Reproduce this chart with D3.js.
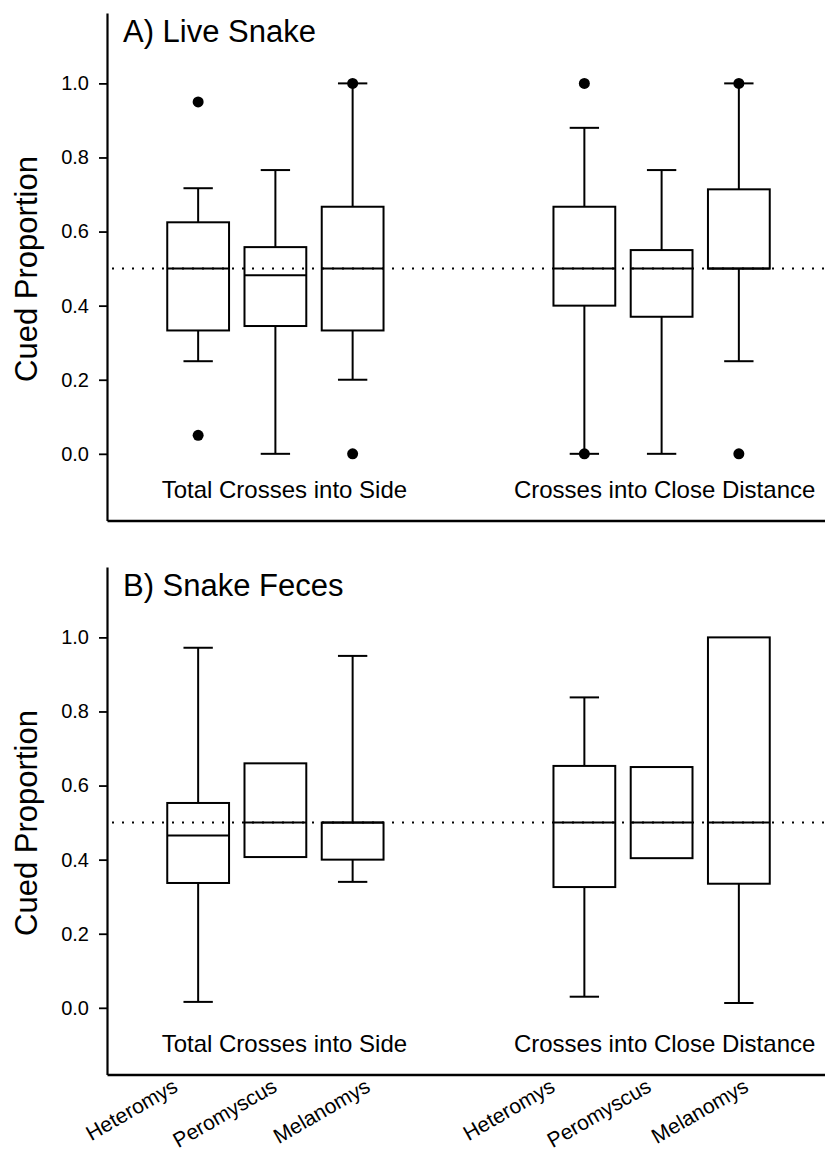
<!DOCTYPE html>
<html>
<head>
<meta charset="utf-8">
<script src="https://cdn.jsdelivr.net/npm/d3@7"></script>
<style>
  body { margin: 0; background: #fff; }
  text { font-family: "Liberation Sans", Arial, sans-serif; fill: #000; }
</style>
</head>
<body>
<div id="chart"></div>
<script>
// categories
var species = ["Heteromys", "Peromyscus", "Melanomys"];
var measures = ["Total Crosses into Side", "Crosses into Close Distance"];
var panelTitles = ["A) Live Snake", "B) Snake Feces"];
var yTicks = [0, 0.2, 0.4, 0.6, 0.8, 1.0];

// box order: Total (Het, Per, Mel), Close (Het, Per, Mel)
var liveLow  = [0.25, 0.0, 0.2, 0.0, 0.0, 0.25];
var liveQ1   = [0.333, 0.345, 0.333, 0.40, 0.37, 0.50];
var liveMed  = [0.50, 0.482, 0.50, 0.50, 0.50, 0.50];
var liveQ3   = [0.625, 0.558, 0.667, 0.667, 0.55, 0.714];
var liveHigh = [0.717, 0.766, 1.0, 0.88, 0.766, 1.0];
var liveOut  = [[0.05, 0.95], [], [0.0, 1.0], [0.0, 1.0], [], [0.0, 1.0]];

var fecesLow  = [0.016, null, 0.34, 0.03, null, 0.013];
var fecesQ1   = [0.337, 0.407, 0.40, 0.326, 0.404, 0.335];
var fecesMed  = [0.465, 0.50, 0.50, 0.50, 0.50, 0.50];
var fecesQ3   = [0.553, 0.66, 0.50, 0.653, 0.65, 1.0];
var fecesHigh = [0.972, null, 0.95, 0.838, null, null];
var fecesOut  = [[], [], [], [], [], []];

var refLine = 0.5;

//Define SVG size
var svgWidth = 825;
var svgHeight = 1158;

var svg = d3.select("#chart")
  .append("svg")
  .attr("width", svgWidth)
  .attr("height", svgHeight);

// slot positions of boxes (gap of two slots between the groups)
var slots = [0, 1, 2, 5, 6, 7];
var xScale = d3.scaleLinear()
  .domain([-1.18, 8.18])
  .range([107, 830]);
var boxHalf = 0.4;
var capHalf = 0.19;

// manual nudges of the rotated species labels
var labelShift = [-19, 3, 19, -28, -9, 11];

function makeRows(low, q1, med, q3, high, out) {
  return slots.map(function(s, i) {
    return { slot: s, low: low[i], q1: q1[i], med: med[i], q3: q3[i], high: high[i], out: out[i] };
  });
}

var panels = [
  { title: panelTitles[0], rows: makeRows(liveLow, liveQ1, liveMed, liveQ3, liveHigh, liveOut), top: 13 },
  { title: panelTitles[1], rows: makeRows(fecesLow, fecesQ1, fecesMed, fecesQ3, fecesHigh, fecesOut), top: 567 }
];

panels.forEach(function(p, pi) {
  var bottom = p.top + 507.5;
  var yScale = d3.scaleLinear()
    .domain([-0.18, 1.19])
    .range([bottom, p.top]);

  var g = svg.append("g");

  // y axis
  var leftAxis = d3.axisLeft(yScale)
    .tickValues(yTicks)
    .tickFormat(d3.format(".1f"))
    .tickSize(8)
    .tickSizeOuter(0)
    .tickPadding(10);

  var yAx = g.append("g")
    .attr("transform", "translate(" + xScale.range()[0] + ",0)")
    .call(leftAxis);
  yAx.select(".domain").attr("stroke-width", 2.2);
  yAx.selectAll(".tick line").attr("stroke-width", 1.8);
  yAx.selectAll(".tick text")
    .style("font-size", "20px")
    .style("font-family", "'Liberation Sans', Arial, sans-serif");

  // x axis line
  var bottomAxis = d3.axisBottom(xScale).tickValues([]).tickSizeOuter(0);
  var xAx = g.append("g")
    .attr("transform", "translate(0," + bottom + ")")
    .call(bottomAxis);
  xAx.select(".domain").attr("stroke-width", 2.6);

  // reference line
  g.append("line")
    .attr("x1", 112)
    .attr("x2", svgWidth)
    .attr("y1", yScale(refLine))
    .attr("y2", yScale(refLine))
    .attr("stroke", "#000")
    .attr("stroke-width", 2)
    .attr("stroke-dasharray", "2,8");

  // boxes
  var boxes = g.selectAll(".box")
    .data(p.rows)
    .enter()
    .append("g")
    .attr("class", "box");

  boxes.filter(d => d.high != null)
    .append("line")
    .attr("x1", d => xScale(d.slot))
    .attr("x2", d => xScale(d.slot))
    .attr("y1", d => yScale(d.q3))
    .attr("y2", d => yScale(d.high))
    .attr("stroke", "#000")
    .attr("stroke-width", 2);

  boxes.filter(d => d.high != null)
    .append("line")
    .attr("x1", d => xScale(d.slot - capHalf))
    .attr("x2", d => xScale(d.slot + capHalf))
    .attr("y1", d => yScale(d.high))
    .attr("y2", d => yScale(d.high))
    .attr("stroke", "#000")
    .attr("stroke-width", 2);

  boxes.filter(d => d.low != null)
    .append("line")
    .attr("x1", d => xScale(d.slot))
    .attr("x2", d => xScale(d.slot))
    .attr("y1", d => yScale(d.q1))
    .attr("y2", d => yScale(d.low))
    .attr("stroke", "#000")
    .attr("stroke-width", 2);

  boxes.filter(d => d.low != null)
    .append("line")
    .attr("x1", d => xScale(d.slot - capHalf))
    .attr("x2", d => xScale(d.slot + capHalf))
    .attr("y1", d => yScale(d.low))
    .attr("y2", d => yScale(d.low))
    .attr("stroke", "#000")
    .attr("stroke-width", 2);

  boxes.append("rect")
    .attr("x", d => xScale(d.slot - boxHalf))
    .attr("width", d => xScale(d.slot + boxHalf) - xScale(d.slot - boxHalf))
    .attr("y", d => yScale(d.q3))
    .attr("height", d => yScale(d.q1) - yScale(d.q3))
    .attr("fill", "none")
    .attr("stroke", "#000")
    .attr("stroke-width", 2);

  boxes.append("line")
    .attr("x1", d => xScale(d.slot - boxHalf))
    .attr("x2", d => xScale(d.slot + boxHalf))
    .attr("y1", d => yScale(d.med))
    .attr("y2", d => yScale(d.med))
    .attr("stroke", "#000")
    .attr("stroke-width", 2);

  // outliers
  boxes.selectAll("circle")
    .data(d => d.out.map(v => ({ slot: d.slot, v: v })))
    .enter()
    .append("circle")
    .attr("cx", d => xScale(d.slot))
    .attr("cy", d => yScale(d.v))
    .attr("r", 5.5)
    .attr("fill", "#000");

  // panel title
  g.append("text")
    .attr("x", 123)
    .attr("y", p.top + 29)
    .style("font-size", "31px")
    .text(p.title);

  // group labels
  g.selectAll(".grp")
    .data(measures)
    .enter()
    .append("text")
    .attr("class", "grp")
    .attr("x", (d, i) => xScale(slots[i * 3 + 1]) + (i == 0 ? 9 : 3))
    .attr("y", p.top + 485)
    .attr("text-anchor", "middle")
    .style("font-size", "24px")
    .text(d => d);

  // y axis title
  g.append("text")
    .attr("transform", "translate(37," + (p.top + 256) + ") rotate(-90)")
    .attr("text-anchor", "middle")
    .style("font-size", "31px")
    .text("Cued Proportion");

  // species labels only below the lower panel
  if (pi == 1) {
    g.selectAll(".sp")
      .data(slots)
      .enter()
      .append("text")
      .attr("class", "sp")
      .attr("text-anchor", "end")
      .attr("transform", (s, i) => "translate(" + (xScale(s) + labelShift[i]) + "," + (bottom + 16) + ") rotate(-30)")
      .style("font-size", "21px")
      .text((s, i) => species[i % 3]);
  }
});
</script>
</body>
</html>
